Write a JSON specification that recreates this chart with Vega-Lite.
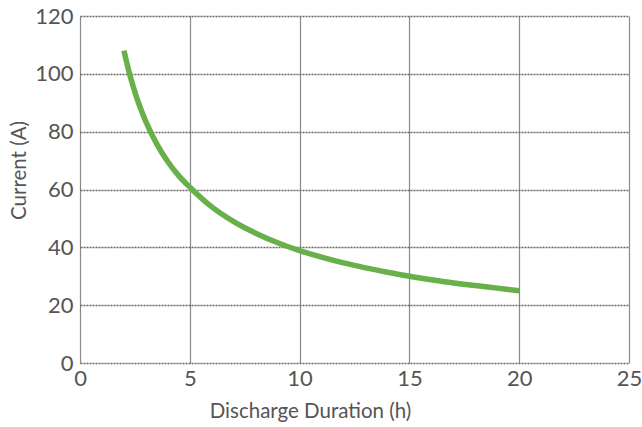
{
  "$schema": "https://vega.github.io/schema/vega-lite/v6.json",
  "autosize": "none",
  "width": 549,
  "height": 347,
  "padding": {"left": 80, "top": 16, "right": 13, "bottom": 64},
  "background": "white",
  "config": {"view": {"stroke": null}},
  "data": {"values": [
    {"t": 2, "i": 108}, {"t": 2.25, "i": 100.2}, {"t": 2.5, "i": 93.7}, {"t": 2.75, "i": 88.2},
    {"t": 3, "i": 83.5}, {"t": 3.5, "i": 75.7}, {"t": 4, "i": 69.6}, {"t": 4.5, "i": 64.7},
    {"t": 5, "i": 60.8}, {"t": 6, "i": 54}, {"t": 7, "i": 48.9}, {"t": 8, "i": 44.9},
    {"t": 9, "i": 41.6}, {"t": 10, "i": 38.9}, {"t": 11, "i": 36.6}, {"t": 12, "i": 34.6},
    {"t": 13, "i": 32.9}, {"t": 14, "i": 31.4}, {"t": 15, "i": 30.0}, {"t": 16, "i": 28.8},
    {"t": 17, "i": 27.7}, {"t": 18, "i": 26.8}, {"t": 19, "i": 25.9}, {"t": 20, "i": 25.0}
  ]},
  "mark": {"type": "line", "color": "#68b04a", "strokeWidth": 5.5, "interpolate": "monotone"},
  "encoding": {
    "x": {"field": "t", "type": "quantitative", "scale": {"domain": [0, 25], "nice": false},
      "axis": {"title": "Discharge Duration (h)", "values": [0, 5, 10, 15, 20, 25], "domain": false, "ticks": false,
        "grid": true, "gridColor": "#8a8a8a", "gridWidth": 1.2, "gridOpacity": 1, "labelFlush": false,
        "labelFont": "Lato", "labelFontSize": 22, "labelColor": "#555", "labelPadding": 5,
        "titleFont": "Lato", "titleFontSize": 20.5, "titleFontWeight": "normal", "titleColor": "#555",
        "titleX": 230, "titleY": 54, "titleAlign": "center", "titleBaseline": "alphabetic"}},
    "y": {"field": "i", "type": "quantitative", "scale": {"domain": [0, 120], "nice": false},
      "axis": {"title": "Current (A)", "values": [0, 20, 40, 60, 80, 100, 120], "domain": false, "ticks": false,
        "grid": true, "gridColor": "#666", "gridWidth": 1.5, "gridDash": [2, 1], "gridOpacity": 1, "labelFlush": false,
        "labelFont": "Lato", "labelFontSize": 22, "labelColor": "#555", "labelPadding": 7,
        "titleFont": "Lato", "titleFontSize": 20.5, "titleFontWeight": "normal", "titleColor": "#555",
        "titleX": -55, "titleY": 154, "titleAlign": "center", "titleAngle": -90, "titleBaseline": "alphabetic"}}
  }
}
